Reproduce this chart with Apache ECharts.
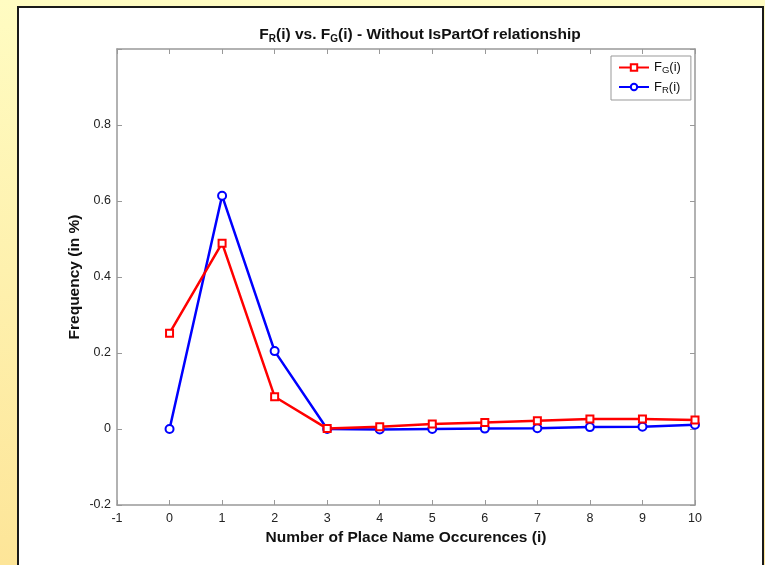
<!DOCTYPE html>
<html>
<head>
<meta charset="utf-8">
<script src="https://cdn.jsdelivr.net/npm/echarts@6/dist/echarts.min.js"></script>
<style>
  html, body { margin: 0; padding: 0; }
  #chart { width: 765px; height: 565px; }
</style>
</head>
<body>
<div id="chart"></div>
<script>
// occurrences i = 0..10
const occurrences = [0, 1, 2, 3, 4, 5, 6, 7, 8, 9, 10];
const freqG = [0.252, 0.489, 0.085, 0.001, 0.006, 0.013, 0.017, 0.022, 0.026, 0.026, 0.024];
const freqR = [0.0, 0.614, 0.205, 0.0, -0.001, 0.0, 0.001, 0.002, 0.005, 0.006, 0.011];

const font = '"Liberation Sans", Arial, sans-serif';

const chart = echarts.init(document.getElementById('chart'));

function pairs(vals) {
  return occurrences.map((x, i) => [x, vals[i]]);
}

const boxAxis = {
  axisLine: { show: true, onZero: false, lineStyle: { color: '#999', width: 1.5 } },
  axisTick: { show: true, inside: true, length: 5, lineStyle: { color: '#999' } },
  splitLine: { show: false }
};

chart.setOption({
  backgroundColor: new echarts.graphic.LinearGradient(0, 0, 0, 1, [
    { offset: 0, color: '#fffcc2' },
    { offset: 1, color: '#fde598' }
  ]),
  graphic: [{
    type: 'rect',
    z: -10,
    shape: { x: 18, y: 7, width: 745, height: 570 },
    style: { fill: '#fff', stroke: '#1a1a1a', lineWidth: 2 }
  }],
  title: {
    text: 'F{s|R}(i) vs. F{s|G}(i) - Without IsPartOf relationship',
    left: 415,
    top: 20,
    textAlign: 'center',
    textStyle: {
      fontFamily: font, fontSize: 15.5, fontWeight: 'bold', color: '#111',
      rich: {
        s: { fontFamily: font, fontSize: 10, fontWeight: 'bold', color: '#111', verticalAlign: 'bottom', padding: [9, 0, 0, 0] }
      }
    }
  },
  legend: {
    orient: 'vertical',
    left: 611,
    top: 56,
    width: 80,
    backgroundColor: '#fff',
    borderColor: '#999',
    borderWidth: 1,
    padding: [5, 10, 5, 7],
    itemGap: 5,
    itemWidth: 30,
    itemHeight: 8,
    data: ['G', 'R'],
    formatter: n => 'F{s|' + n + '}(i)',
    textStyle: {
      fontFamily: font, fontSize: 13, color: '#111',
      rich: { s: { fontFamily: font, fontSize: 9.5, color: '#111', padding: [6, 0, 0, 0] } }
    }
  },
  grid: { left: 117, right: 70, top: 49, bottom: 60 },
  xAxis: [
    Object.assign({}, boxAxis, {
      type: 'value', min: -1, max: 10, interval: 1,
      name: 'Number of Place Name Occurences (i)',
      nameLocation: 'middle', nameGap: 22,
      nameTextStyle: { fontFamily: font, fontSize: 15.5, fontWeight: 'bold', color: '#111' },
      axisLabel: { fontFamily: font, fontSize: 12.5, color: '#222', margin: 7 }
    }),
    Object.assign({}, boxAxis, {
      type: 'value', min: -1, max: 10, interval: 1, position: 'top',
      axisLabel: { show: false }
    })
  ],
  yAxis: [
    Object.assign({}, boxAxis, {
      type: 'value', min: -0.2, max: 1, interval: 0.2,
      name: 'Frequency (in %)',
      nameLocation: 'middle', nameGap: 34, nameMoveOverlap: false,
      nameTextStyle: { fontFamily: font, fontSize: 15.5, fontWeight: 'bold', color: '#111' },
      axisLabel: {
        fontFamily: font, fontSize: 12.5, color: '#222', margin: 6,
        formatter: v => (Math.abs(v - 1) < 1e-9 ? '' : String(Math.round(v * 10) / 10))
      }
    }),
    Object.assign({}, boxAxis, {
      type: 'value', min: -0.2, max: 1, interval: 0.2, position: 'right',
      axisLabel: { show: false }
    })
  ],
  series: [
    {
      name: 'G', type: 'line', data: pairs(freqG),
      symbol: 'emptyRect', symbolSize: 7,
      lineStyle: { color: '#ff0000', width: 2.5 },
      itemStyle: { color: '#ff0000', borderWidth: 1.5 },
      z: 3
    },
    {
      name: 'R', type: 'line', data: pairs(freqR),
      symbol: 'emptyCircle', symbolSize: 8,
      lineStyle: { color: '#0000ff', width: 2.5 },
      itemStyle: { color: '#0000ff', borderWidth: 1.5 },
      z: 2
    }
  ],
  animation: false
});
</script>
</body>
</html>
